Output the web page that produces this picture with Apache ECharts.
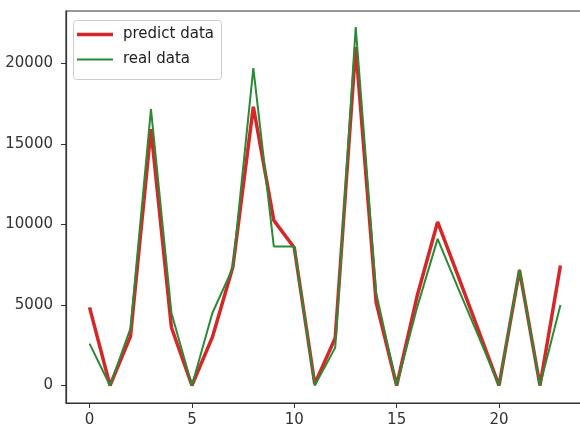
<!DOCTYPE html>
<html>
<head>
<meta charset="utf-8">
<script src="https://cdn.jsdelivr.net/npm/echarts@6/dist/echarts.min.js"></script>
<style>
  html, body { margin: 0; padding: 0; background: #fff; }
  #chart { width: 580px; height: 429px; }
</style>
</head>
<body>
<div id="chart"></div>
<script>
// values, index = x
const predictData = [4850, 0, 3050, 15900, 3600, 0, 3000, 7350, 17300, 10250, 8550, 100,
  2950, 21000, 5150, 0, 5550, 10150, 6800, 3400, 0, 7150, 0, 7450];
const realData = [2600, 0, 3550, 17150, 4500, 0, 4500, 7300, 19700, 8630, 8630, 0,
  2350, 22250, 5750, 0, 4850, 9100, 6050, 3050, 0, 7200, 0, 5000];
const xTicks = [0, 5, 10, 15, 20];
const yTicks = [0, 5000, 10000, 15000, 20000];

const toPairs = arr => arr.map((v, i) => [i, v]);
const font = "DejaVu Sans";
const ink = "#333";

const chart = echarts.init(document.getElementById("chart"));
chart.setOption({
  animation: false,
  grid: {
    left: 66,
    top: 11,
    width: 518,
    height: 392,
    outerBoundsMode: "none",
    containLabel: false,
    show: true,
    borderColor: ink,
    borderWidth: 1.2
  },
  xAxis: {
    type: "value",
    min: -1.15,
    max: 24.15,
    axisLine: { show: true, onZero: false, lineStyle: { color: ink, width: 1.2 } },
    splitLine: { show: false },
    axisTick: {
      show: true,
      inside: false,
      length: 5,
      customValues: xTicks,
      lineStyle: { color: ink, width: 1 }
    },
    axisLabel: {
      customValues: xTicks,
      margin: 10,
      color: ink,
      fontFamily: font,
      fontSize: 15,
      formatter: v => String(v)
    }
  },
  yAxis: {
    type: "value",
    min: -1085,
    max: 23240,
    axisLine: { show: true, onZero: false, lineStyle: { color: ink, width: 1.2 } },
    splitLine: { show: false },
    axisTick: {
      show: true,
      inside: false,
      length: 5,
      customValues: yTicks,
      lineStyle: { color: ink, width: 1 }
    },
    axisLabel: {
      customValues: yTicks,
      margin: 13,
      color: ink,
      fontFamily: font,
      fontSize: 15,
      formatter: v => String(v)
    }
  },
  legend: [
    {
      data: ["predict data"],
      left: 77,
      top: 27,
      padding: 0,
      icon: "rect",
      itemWidth: 36,
      itemHeight: 3.5,
      textStyle: { color: "#222", fontFamily: font, fontSize: 15, padding: [0, 0, 0, 5] }
    },
    {
      data: ["real data"],
      left: 77,
      top: 52,
      padding: 0,
      icon: "rect",
      itemWidth: 36,
      itemHeight: 2,
      textStyle: { color: "#222", fontFamily: font, fontSize: 15, padding: [0, 0, 0, 5] }
    }
  ],
  graphic: [
    {
      type: "rect",
      shape: { x: 73.5, y: 20.5, width: 148, height: 59, r: 3 },
      style: { fill: "rgba(255,255,255,0.8)", stroke: "#ccc", lineWidth: 1 },
      z: 0
    }
  ],
  series: [
    {
      name: "predict data",
      type: "line",
      symbol: "none",
      color: "#d62728",
      lineStyle: { color: "#d62728", width: 3.5 },
      data: toPairs(predictData)
    },
    {
      name: "real data",
      type: "line",
      symbol: "none",
      color: "#2a8a35",
      lineStyle: { color: "#2a8a35", width: 2 },
      data: toPairs(realData)
    }
  ]
});
</script>
</body>
</html>
